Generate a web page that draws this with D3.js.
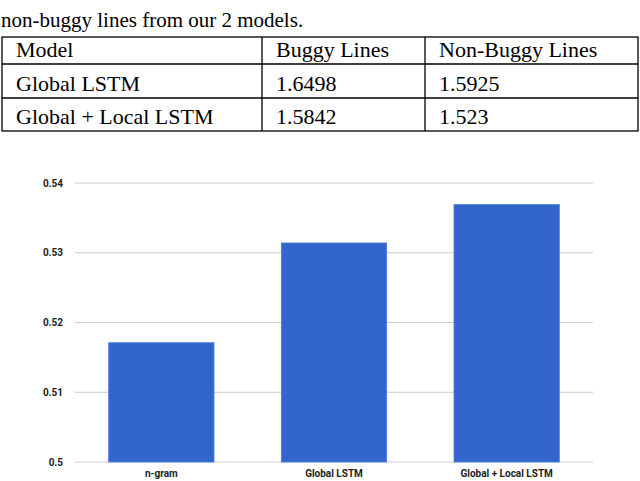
<!DOCTYPE html><html><head><meta charset="utf-8"><script src="https://cdn.jsdelivr.net/npm/d3@7"></script>
<style>body{margin:0;background:#fff}</style></head><body><svg id="c" width="640" height="481"></svg>
<script>
const tableHeader=["Model","Buggy Lines","Non-Buggy Lines"];
const tableRows=[["Global LSTM","1.6498","1.5925"],["Global + Local LSTM","1.5842","1.523"]];
const categories=["n-gram","Global LSTM","Global + Local LSTM"];
const values=[0.5171,0.5314,0.5369];
const yTicks=[0.5,0.51,0.52,0.53,0.54];
const svg=d3.select("#c");
const serif="'Liberation Serif','Times New Roman',serif";
svg.append("text").attr("x",1).attr("y",27).attr("font-family",serif).attr("font-size",21).text("non-buggy lines from our 2 models.");
const colX=[2,262,425,638], rowY=[37,64,98,131];
const tg=svg.append("g");
tg.append("rect").attr("x",colX[0]).attr("y",rowY[0]).attr("width",colX[3]-colX[0]).attr("height",rowY[3]-rowY[0]).attr("fill","none").attr("stroke","#000").attr("stroke-width",1.3);
[rowY[1],rowY[2]].forEach(y=>tg.append("line").attr("x1",colX[0]).attr("x2",colX[3]).attr("y1",y).attr("y2",y).attr("stroke","#000").attr("stroke-width",1.3));
[colX[1],colX[2]].forEach(x=>tg.append("line").attr("x1",x).attr("x2",x).attr("y1",rowY[0]).attr("y2",rowY[3]).attr("stroke","#000").attr("stroke-width",1.3));
[tableHeader,...tableRows].forEach((r,i)=>r.forEach((t,j)=>tg.append("text").attr("x",colX[j]+14).attr("y",rowY[i+1]-7).attr("font-family",serif).attr("font-size",22).text(t)));
const x=d3.scaleBand().domain(categories).range([75,593]).paddingInner(0.39).paddingOuter(0.195);
const y=d3.scaleLinear().domain([0.5,0.54]).range([462,183]);
const g=svg.append("g").attr("font-family","Roboto,Arial,sans-serif");
yTicks.forEach(t=>{g.append("line").attr("x1",75).attr("x2",593).attr("y1",y(t)).attr("y2",y(t)).attr("stroke","#cccccc").attr("stroke-width",1);
 g.append("text").attr("x",63).attr("y",y(t)+3.5).attr("text-anchor","end").attr("font-size",10).attr("font-weight","bold").attr("fill","#222").text(d3.format("")(t));});
g.selectAll("rect.bar").data(values).join("rect").attr("x",(d,i)=>x(categories[i])).attr("width",x.bandwidth()).attr("y",d=>y(d)).attr("height",d=>y(0.5)-y(d)).attr("fill","#3366cc").attr("stroke","#4a7de0").attr("stroke-width",0.8);
categories.forEach(c=>g.append("text").attr("x",x(c)+x.bandwidth()/2).attr("y",477).attr("text-anchor","middle").attr("font-size",10).attr("font-weight","bold").attr("fill","#222").text(c));
</script></body></html>
